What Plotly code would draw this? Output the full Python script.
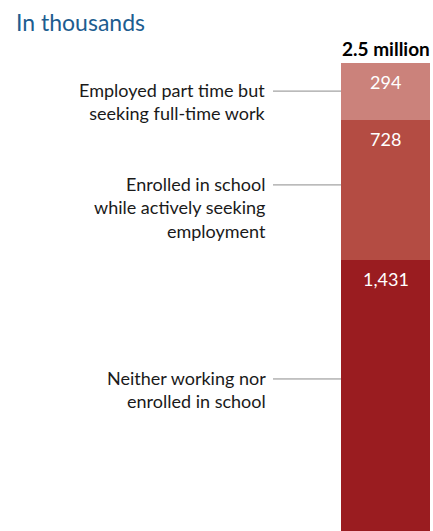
import plotly.graph_objects as go

# Data (in thousands), bottom to top
categories = ["Neither working nor<br>enrolled in school",
              "Enrolled in school<br>while actively seeking<br>employment",
              "Employed part time but<br>seeking full-time work"]
values = [1431, 728, 294]
value_labels = ["1,431", "728", "294"]
total_label = "2.5 million"
colors = ["#9a1c20", "#b44c43", "#cb827b"]
# relative position of the leader line within each segment (from top)
leader_frac = [0.434, 0.467, 0.497]

W, H = 433, 531
TOP = 63
scale = 0.1923  # px per thousand
total = sum(values)
ymin = total - (H - TOP) / scale

FONT = "Lato"
fig = go.Figure()
for v, c, n in zip(values, colors, categories):
    fig.add_trace(go.Bar(x=[0], y=[v], width=1, marker=dict(color=c, line=dict(width=0)),
                         name=n, hoverinfo="skip"))

bar_left_px, bar_right_px = 341, 430
unit = bar_right_px - bar_left_px
xr0 = -0.5 - bar_left_px / unit
xr1 = xr0 + W / unit

annotations = []
shapes = []
cum = 0
for v, lab, cat, f in zip(values, value_labels, categories, leader_frac):
    top = cum + v
    annotations.append(dict(x=0, y=top, xref="x", yref="y", text=lab, showarrow=False,
                            yanchor="middle", xanchor="center", yshift=-19,
                            font=dict(family=FONT, size=18, color="white")))
    ly = top - f * v
    shapes.append(dict(type="line", xref="x", yref="y", x0=xr0 + 273 / unit, x1=-0.5,
                       y0=ly, y1=ly, line=dict(color="#8c8c8c", width=1)))
    annotations.append(dict(x=xr0 + 268 / unit, y=ly, xref="x", yref="y", text=cat,
                            showarrow=False, xanchor="right", yanchor="top", align="right",
                            yshift=14,
                            font=dict(family=FONT, size=18, color="#1a1a1a")))
    cum = top

annotations.append(dict(x=0, y=total, xref="x", yref="y", text="<b>" + total_label + "</b>",
                        showarrow=False, xanchor="center", yanchor="middle", yshift=15,
                        font=dict(family=FONT, size=19, color="#000000")))
annotations.append(dict(x=0, y=1, xref="paper", yref="paper", text="In thousands",
                        showarrow=False, xanchor="left", yanchor="middle", xshift=14, yshift=41,
                        font=dict(family=FONT, size=23, color="#1d5d90")))

fig.update_layout(
    width=W, height=H, barmode="stack", bargap=0, showlegend=False,
    margin=dict(l=0, r=0, t=TOP, b=0),
    paper_bgcolor="white", plot_bgcolor="white",
    xaxis=dict(range=[xr0, xr1], visible=False, fixedrange=True),
    yaxis=dict(range=[ymin, total], visible=False, fixedrange=True),
    annotations=annotations, shapes=shapes,
)
fig.write_html("out.html", config={"displayModeBar": False},
               post_script="document.body.style.margin='0';document.body.style.overflow='hidden';")
